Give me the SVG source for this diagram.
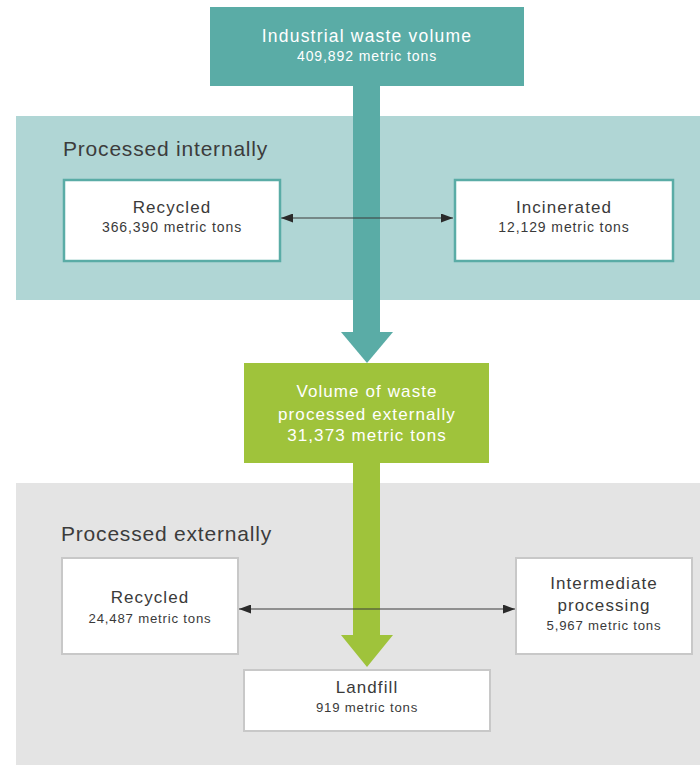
<svg xmlns="http://www.w3.org/2000/svg" width="700" height="765" viewBox="0 0 700 765">
  <style>
    text { font-family: "Liberation Sans", Arial, sans-serif; text-anchor: middle; }
    .band-in { fill: #b0d6d5; }
    .band-ex { fill: #e4e4e4; }
    .teal { fill: #5aaca6; }
    .green { fill: #9fc33b; }
    .box-in { fill: #ffffff; stroke: #5aaca6; stroke-width: 2.5; }
    .box-ex { fill: #ffffff; stroke: #c8c8c8; stroke-width: 2; }
    .head { font-size: 17px; letter-spacing: 1.1px; fill: #3a3a3a; }
    .sub { font-size: 14px; letter-spacing: 0.9px; fill: #3a3a3a; }
    .sub-s { font-size: 13.2px; letter-spacing: 0.8px; fill: #3a3a3a; }
    .light { fill: #ffffff; }
    .section { font-size: 21px; letter-spacing: 0.8px; fill: #3c3c3c; text-anchor: start; }
    .link { stroke: #3a3a3a; stroke-width: 1.2; fill: none; marker-start: url(#tip); marker-end: url(#tip); }
  </style>
  <defs>
    <marker id="tip" viewBox="0 0 12 9" refX="12" refY="4.5" markerWidth="12" markerHeight="9" markerUnits="userSpaceOnUse" orient="auto-start-reverse">
      <path d="M0,0 L12,4.5 L0,9 Z" fill="#2a2a2a"/>
    </marker>
  </defs>

  <!-- background bands -->
  <rect class="band-in" x="16" y="116" width="684" height="184"/>
  <rect class="band-ex" x="16" y="483" width="684" height="282"/>

  <text class="section" x="63" y="156">Processed internally</text>
  <text class="section" x="61" y="541">Processed externally</text>

  <!-- flow arrows and side links -->
  <g id="connectors">
    <rect class="teal" x="353" y="84" width="27" height="249"/>
    <polygon class="teal" points="341,332 393,332 367,363"/>
    <rect class="green" x="353" y="462" width="27" height="174"/>
    <polygon class="green" points="341,635 393,635 367,667"/>
    <line class="link" x1="281" y1="218" x2="453" y2="218"/>
    <line class="link" x1="239" y1="609" x2="515" y2="609"/>
  </g>

  <g id="total">
    <rect class="teal" x="210" y="7" width="314" height="79"/>
    <text class="head light" x="367" y="42" style="font-size:17.5px;letter-spacing:1.2px">Industrial waste volume</text>
    <text class="sub light" x="367" y="61">409,892 metric tons</text>
  </g>

  <g id="recycled-internal">
    <rect class="box-in" x="64" y="180" width="216" height="81"/>
    <text class="head" x="172" y="213">Recycled</text>
    <text class="sub" x="172" y="232">366,390 metric tons</text>
  </g>

  <g id="incinerated">
    <rect class="box-in" x="455" y="180" width="218" height="81"/>
    <text class="head" x="564" y="213">Incinerated</text>
    <text class="sub" x="564" y="232">12,129 metric tons</text>
  </g>

  <g id="external-total">
    <rect class="green" x="244" y="363" width="245" height="100"/>
    <text class="head light" x="367" y="397">Volume of waste</text>
    <text class="head light" x="367" y="420">processed externally</text>
    <text class="head light" x="367" y="441">31,373 metric tons</text>
  </g>

  <g id="recycled-external">
    <rect class="box-ex" x="62" y="558" width="176" height="96"/>
    <text class="head" x="150" y="603">Recycled</text>
    <text class="sub-s" x="150" y="623">24,487 metric tons</text>
  </g>

  <g id="intermediate">
    <rect class="box-ex" x="516" y="558" width="176" height="96"/>
    <text class="head" x="604" y="589">Intermediate</text>
    <text class="head" x="604" y="611">processing</text>
    <text class="sub-s" x="604" y="630">5,967 metric tons</text>
  </g>

  <g id="landfill">
    <rect class="box-ex" x="244" y="670" width="246" height="61"/>
    <text class="head" x="367" y="693">Landfill</text>
    <text class="sub-s" x="367" y="712">919 metric tons</text>
  </g>
</svg>
